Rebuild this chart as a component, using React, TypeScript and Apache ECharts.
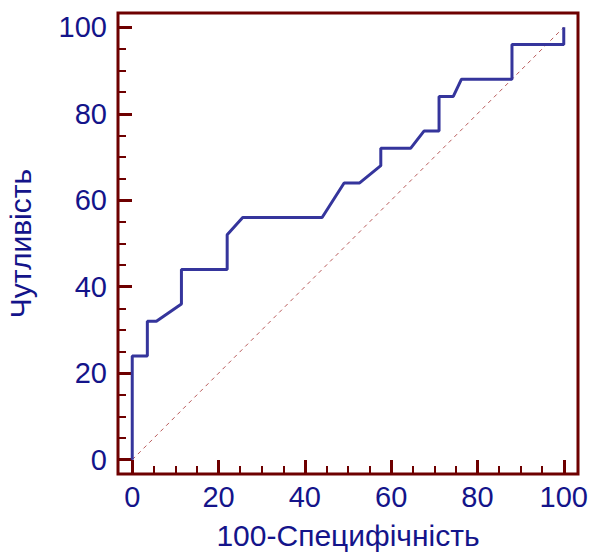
import React, { useEffect, useRef } from "react";
import * as echarts from "echarts";

const rocX = [0, 0, 3.5, 3.5, 5.6, 11.4, 11.4, 22, 22, 25.6, 44, 49.1, 52.7, 57.6, 57.6, 64.5, 67.6, 71.1, 71.1, 74.4, 76.3, 88, 88, 100, 100];
const rocY = [0, 24, 24, 32, 32, 36, 44, 44, 52, 56, 56, 64, 64, 68, 72, 72, 76, 76, 84, 84, 88, 88, 96, 96, 100];
const refX = [0, 100];
const refY = [0, 100];
const majorTicks = [0, 20, 40, 60, 80, 100];
const minorTicks = [5, 10, 15, 25, 30, 35, 45, 50, 55, 65, 70, 75, 85, 90, 95];
const xTitle = "100-Специфічність";
const yTitle = "Чутливість";

const MAROON = "#6e0000";
const NAVY = "#14148a";
const FONT = "'Liberation Sans', Arial, sans-serif";
const AX_MIN = -3.3;
const AX_MAX = 103.3;

export default function App() {
  const ref = useRef<HTMLDivElement>(null);
  useEffect(() => {
    if (!ref.current) return;
    const chart = echarts.init(ref.current, undefined, { renderer: "svg" });
    const majorAxis = (name: string, nameGap: number, position: string, margin: number) => ({
      type: "value" as const,
      position,
      min: AX_MIN,
      max: AX_MAX,
      axisLine: { show: false, onZero: false },
      axisTick: { show: true, inside: true, length: 14, customValues: majorTicks, lineStyle: { color: MAROON, width: 3 } },
      axisLabel: { color: NAVY, fontSize: 29, fontFamily: FONT, margin, customValues: majorTicks },
      splitLine: { show: false },
      name,
      nameGap,
      nameLocation: "middle" as const,
      nameTextStyle: { color: NAVY, fontSize: 30, fontFamily: FONT },
    });
    const minorAxis = (position: string) => ({
      type: "value" as const,
      position,
      offset: 0,
      min: AX_MIN,
      max: AX_MAX,
      axisLine: { show: false, onZero: false },
      axisTick: { show: true, inside: true, length: 8, customValues: minorTicks, lineStyle: { color: MAROON, width: 2 } },
      axisLabel: { show: false },
      splitLine: { show: false },
    });
    chart.setOption({
      animation: false,
      backgroundColor: "#ffffff",
      grid: {
        left: 118, right: 14, top: 13, bottom: 79,
        containLabel: false, outerBoundsMode: "none",
        show: true, borderColor: MAROON, borderWidth: 3, backgroundColor: "transparent",
      },
      xAxis: [majorAxis(xTitle, 46, "bottom", 8), minorAxis("bottom")],
      yAxis: [majorAxis(yTitle, 83, "left", 11), minorAxis("left")],
      series: [
        {
          type: "line",
          data: refX.map((x, i) => [x, refY[i]]),
          showSymbol: false,
          lineStyle: { color: "#b85a5a", width: 1, type: [4, 4] },
          silent: true,
        },
        {
          type: "line",
          data: rocX.map((x, i) => [x, rocY[i]]),
          showSymbol: false,
          lineStyle: { color: "#35359c", width: 3 },
          silent: true,
        },
      ],
    });
    return () => chart.dispose();
  }, []);
  return <div ref={ref} style={{ width: 592, height: 553, position: "absolute", left: 0, top: 0 }} />;
}
